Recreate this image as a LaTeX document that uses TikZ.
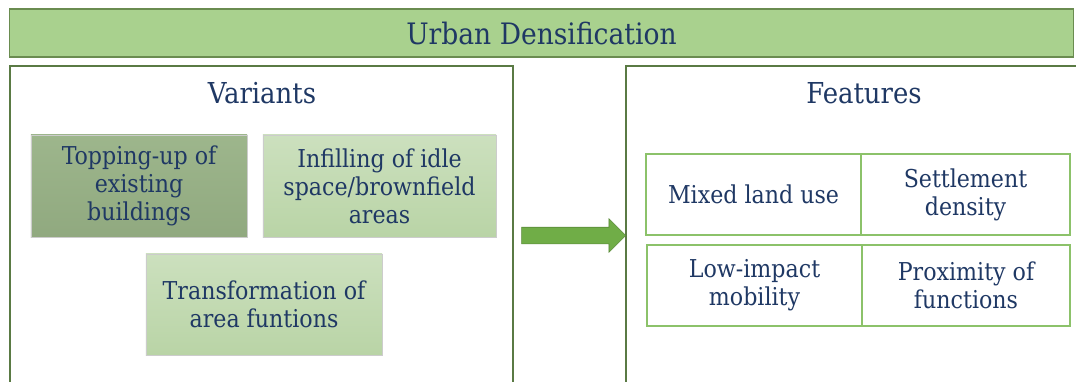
\documentclass[tikz,border=0pt]{standalone}
\usepackage{fontspec}
\setmainfont{DejaVu Serif Condensed}
\usepackage{tikz}
\usetikzlibrary{shapes.arrows}
\definecolor{navy}{HTML}{1F3864}
\definecolor{barfill}{HTML}{A9D18E}
\definecolor{barline}{HTML}{6A8C50}
\definecolor{frameline}{HTML}{5A7A44}
\definecolor{darkvar}{HTML}{98B286}
\definecolor{lighttop}{HTML}{CCE0BE}
\definecolor{lightbot}{HTML}{B9D4A6}
\definecolor{cellline}{HTML}{8CC26A}
\definecolor{arrowgreen}{HTML}{70AD47}
\tikzset{
  titlebar/.style={rectangle,draw=barline,fill=barfill,line width=0.8pt,
    minimum width=26.575cm,minimum height=1.2cm,inner sep=0pt},
  frame/.style={rectangle,draw=frameline,line width=0.9pt,
    minimum height=7.95cm,inner sep=0pt},
  heading/.style={text=navy,font=\fontsize{20.5}{24}\selectfont},
  varbox/.style={rectangle,draw=black!20,align=center,text=navy,inner sep=0pt,
    minimum height=2.55cm,font=\fontsize{17.5}{20}\selectfont},
  varlight/.style={varbox,top color=lighttop,bottom color=lightbot},
  featcell/.style={rectangle,draw=cellline,line width=0.8pt,align=center,text=navy,
    minimum height=2.025cm,inner sep=0pt,font=\fontsize{17.5}{20}\selectfont},
  bigarrow/.style={single arrow,draw=arrowgreen!80!black,fill=arrowgreen,inner xsep=0pt,
    inner ysep=0.2cm,minimum height=2.6cm,single arrow head extend=0.21cm}
}

\begin{document}
\begin{tikzpicture}[x=0.025cm,y=-0.025cm]
\useasboundingbox (0,0) rectangle (1076,381);

\node[titlebar] (urban) at (541.5,33) {};
\node[heading,font=\fontsize{21}{25}\selectfont] at (urban) {Urban Densification};

\node[frame,minimum width=12.575cm] (variants) at (261.5,225) {};
\node[frame,minimum width=11.35cm] (features) at (853,225) {};
\node[heading] (vtitle) at (262,93) {Variants};
\node[heading] (ftitle) at (864,93) {Features};

% variants
\node[varbox,top color=darkvar!95!white,bottom color=darkvar!95!black,minimum width=5.4cm] (topping) at (139,186)
  {Topping-up of\\existing\\buildings};
\node[varlight,minimum width=5.825cm] (infill) at (379.5,186)
  {Infilling of idle\\space/brownfield\\areas};
\node[varlight,minimum width=5.9cm,minimum height=2.525cm] (transf) at (264,304.5)
  {Transformation of\\area funtions};

\node[bigarrow] (arrow) at (569.5,235.5) {};

% features
\node[featcell,minimum width=5.375cm] (mixed) at (753.5,194.5) {Mixed land use};
\node[featcell,minimum width=5.225cm] (settle) at (965.5,194.5) {Settlement\\density};
\node[featcell,minimum width=5.375cm] (lowimp) at (754.5,285.5) {Low-impact\\mobility};
\node[featcell,minimum width=5.2cm] (proxim) at (966,285.5) {Proximity of\\functions};
\end{tikzpicture}
\end{document}
